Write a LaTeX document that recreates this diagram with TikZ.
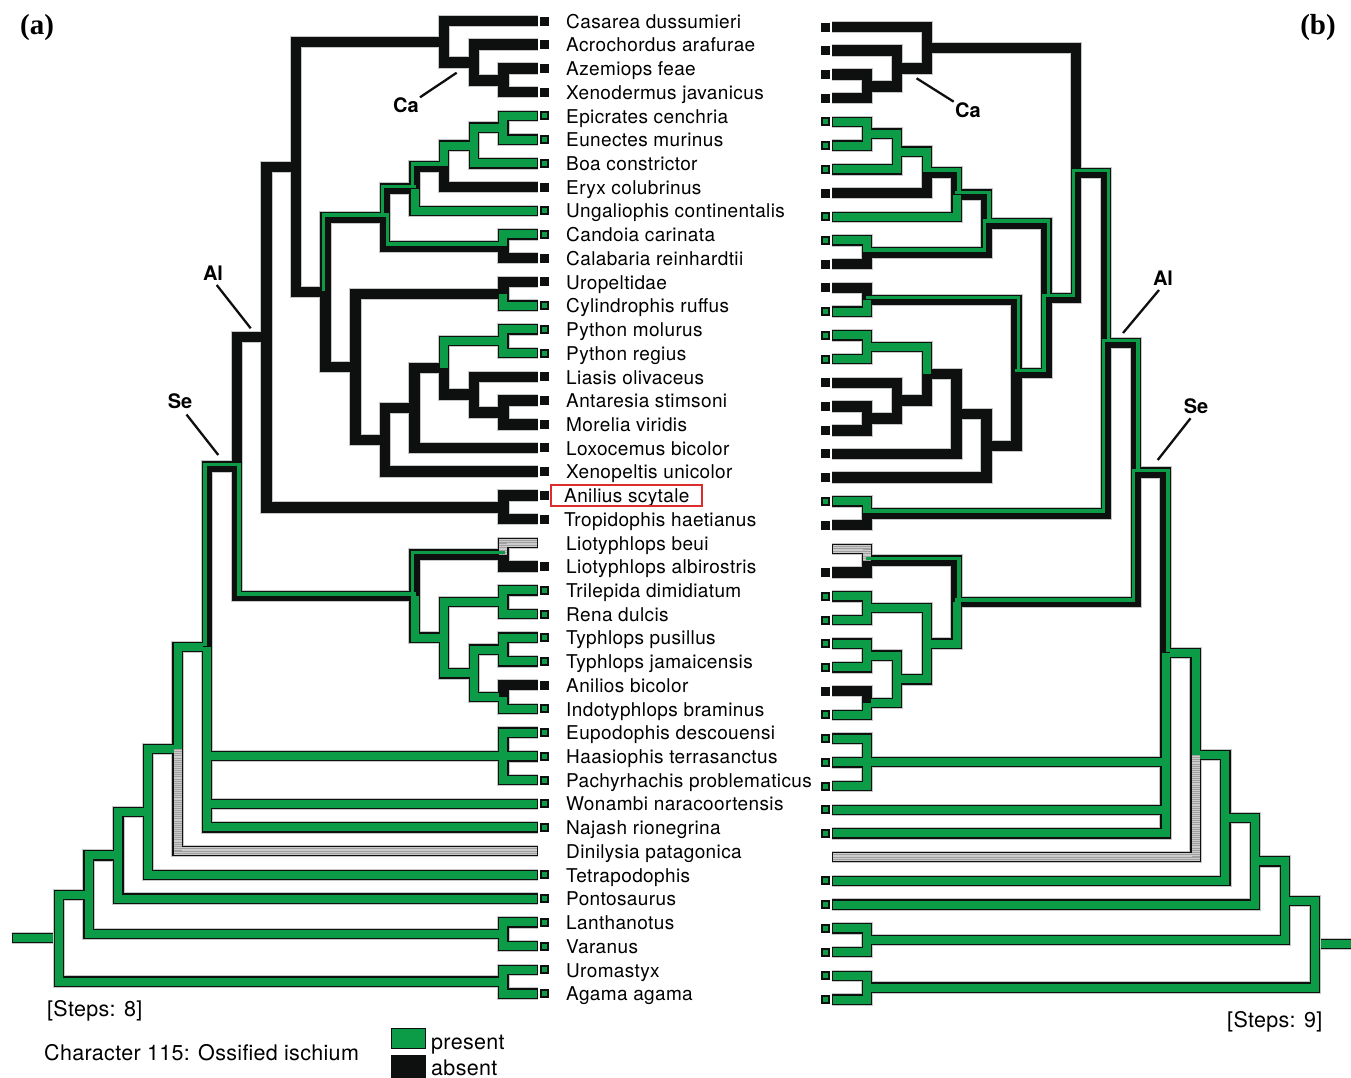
\documentclass[tikz,border=0pt]{standalone}
\usepackage{fontspec}
\setmainfont{TeX Gyre Heros}
\newfontfamily\taxfont[LetterSpace=2]{TeX Gyre Heros}
\newfontfamily\legfont[LetterSpace=1.5]{TeX Gyre Heros}
\newfontfamily\panfont{Liberation Serif}
\usetikzlibrary{calc}
\definecolor{pg}{RGB}{12,156,72}
\definecolor{kk}{RGB}{14,16,16}
\definecolor{rb}{RGB}{222,44,44}

\newcommand\nd[3]{\coordinate (a-#1) at ({533.1-29.63*#2},#3);\coordinate (b-#1) at ({837.3+29.85*#2},{#3+6});}

% #1 prefix, #2 all, #3 green, #4 black, #5 equivocal up, #6 equivocal down, #7 unknown, #8 side sign
\newcommand\drawtree[8]{%
 \foreach \p/\c in #2 {\draw[halo] (#1-\p) |- (#1-\c);}
 \foreach \p/\c in #2 {\draw[outl] (#1-\p) |- (#1-\c);}
 \foreach \p/\c in #3 {\draw[ing] (#1-\p) |- (#1-\c);}
 \foreach \p/\c in #4 {\draw[ink] (#1-\p) |- (#1-\c);}
 \foreach \p/\c in #5 {\draw[ink] (#1-\p) |- (#1-\c);}
 \foreach \p/\c in #6 {\draw[ink] (#1-\p) |- (#1-\c);}
 \foreach \p/\c in #7 {\draw[inu] (#1-\p) |- (#1-\c);
   \draw[line width=8pt,draw=gray!75,dash pattern=on 1pt off 1.1pt] (#1-\p) -- (#1-\c -| #1-\p);
   \foreach \s in {-2.5,0,2.5}{\draw[line width=1pt,draw=gray!75,shorten >=4pt] ($(#1-\c -| #1-\p)+(#8*4,\s)$) -- ($(#1-\c)+(0,\s)$);}}
 \foreach \p/\c in #5 {\draw[strip] ([xshift={(#8)*2.3pt},yshift=2.3pt]#1-\p) |- ([yshift=2.3pt]#1-\c);}
 \foreach \p/\c in #6 {\draw[strip] ([xshift={-(#8)*2.3pt},yshift=2.3pt]#1-\p) |- ([yshift=2.3pt]#1-\c);}
}

\def\Ag{n16/n15,n16/ua,ua/t40,ua/t41,n15/n14,n15/lv,lv/t38,lv/t39,n14/n13,n14/t37,n13/n12,n13/t36,n12/n11,n11/pach,pach/t30,pach/t31,pach/t32,n11/t33,n11/t34,scol/sc3,sc3/tr,tr/t24,tr/t25,sc3/sc2,sc2/ty,ty/t26,ty/t27,sc2/ai,ai/t29,ung/t8,eryx/boa,boa/epeu,boa/t6,epeu/t4,epeu/t5,cc/t9,uc/t12,pyt/py,py/t13,py/t14}
\def\Ak{n8/ca,ca/t0,ca/acro,acro/t1,acro/azxe,azxe/t2,azxe/t3,eryx/t7,cc/t10,n7/n6,n6/uc,uc/t11,n6/xen,xen/lox,xen/t19,lox/pyt,lox/t18,pyt/li,li/t15,li/am,am/t16,am/t17,n8/n7,n9/n8,n9/at,at/t20,at/t21,n10/n9,lio/t23,ai/t28}
\def\Aeu{n7/boid,boid/ung,ung/eryx,n11/n10,scol/lio}
\def\Aed{boid/cc,n10/scol}
\def\Au{lio/t22,n12/t35}
\edef\Aall{\Ag,\Ak,\Aeu,\Aed,\Au}

\def\Bg{n16/n15,n16/ua,ua/t40,ua/t41,n15/n14,n15/lv,lv/t38,lv/t39,n14/n13,n14/t37,n13/n12,n13/t36,n12/n11,n11/pach,pach/t30,pach/t31,pach/t32,n11/t33,n11/t34,scol/sc3,sc3/tr,tr/t24,tr/t25,sc3/sc2,sc2/ty,ty/t26,ty/t27,sc2/ai,ai/t29,ung/t8,eryx/boa,boa/epeu,boa/t6,epeu/t4,epeu/t5,cc/t9,uc/t12,pyt/py,py/t13,py/t14,at/t20}
\def\Bk{n8/ca,ca/t0,ca/acro,acro/t1,acro/azxe,azxe/t2,azxe/t3,eryx/t7,cc/t10,uc/t11,n6/xen,xen/lox,xen/t19,lox/pyt,lox/t18,pyt/li,li/t15,li/am,am/t16,am/t17,at/t21,lio/t23,ai/t28}
\def\Beu{n7/boid,boid/ung,ung/eryx,n11/n10,scol/lio,n9/n8,n10/n9,n6/uc}
\def\Bed{boid/cc,n10/scol,n7/n6,n8/n7,n9/at}
\def\Bu{lio/t22,n12/t35}
\edef\Ball{\Bg,\Bk,\Beu,\Bed,\Bu}

\tikzset{
 halo/.style={line width=12.5pt,draw=gray!45,line join=miter,shorten >=2.8pt},
 outl/.style={line width=10.5pt,draw=kk,line join=miter,shorten >=2.8pt},
 ing/.style={line width=8pt,draw=pg,line join=miter,shorten >=4pt},
 ink/.style={line width=8pt,draw=kk,line join=miter,shorten >=4pt},
 inu/.style={line width=8pt,draw=gray!40,line join=miter,shorten >=4pt},
 strip/.style={line width=3.3pt,draw=pg,line join=miter,line cap=rect},
 sqg/.style={draw=kk,line width=2pt,fill=pg,minimum size=7pt,inner sep=0,outer sep=0},
 sqk/.style={draw=kk,line width=2pt,fill=kk,minimum size=7pt,inner sep=0,outer sep=0},
 taxon/.style={anchor=base west,inner sep=0,font=\taxfont\fontsize{19}{19}\selectfont},
 clade/.style={inner sep=0,font=\bfseries\fontsize{20}{20}\selectfont},
 pointer/.style={line width=2.3pt,draw=kk},
 leg/.style={anchor=base west,inner sep=0,font=\legfont\fontsize{21.5}{21.5}\selectfont},
 panel/.style={inner sep=0,font=\panfont\bfseries\fontsize{29}{29}\selectfont}
}

\begin{document}
\begin{tikzpicture}[x=1pt,y=-1pt]
\useasboundingbox (0,0) rectangle (1351,1077);
\fill[white] (0,0) rectangle (1351,1077);

% tip ends
\foreach \i in {0,...,41}{
 \coordinate (a-t\i) at (541,{21+23.72*\i});
 \coordinate (b-t\i) at (829.3,{27+23.72*\i});
}
% internal nodes (depth, y)
\nd{azxe}{1}{80.30}
\nd{acro}{2}{62.51}
\nd{ca}{3}{41.755}
\nd{epeu}{1}{127.74}
\nd{boa}{2}{145.53}
\nd{eryx}{3}{166.285}
\nd{ung}{4}{188.52}
\nd{cc}{1}{246.34}
\nd{boid}{5}{217.43}
\nd{uc}{1}{293.78}
\nd{py}{1}{341.22}
\nd{am}{1}{412.38}
\nd{li}{2}{394.59}
\nd{pyt}{3}{367.905}
\nd{lox}{4}{407.93}
\nd{xen}{5}{439.81}
\nd{n6}{6}{366.80}
\nd{n7}{7}{292.11}
\nd{n8}{8}{166.93}
\nd{at}{1}{507.26}
\nd{n9}{9}{337.10}
\nd{lio}{1}{554.70}
\nd{tr}{1}{602.14}
\nd{ty}{1}{649.58}
\nd{ai}{1}{697.02}
\nd{sc2}{2}{673.30}
\nd{sc3}{3}{637.72}
\nd{scol}{4}{596.21}
\nd{n10}{10}{466.655}
\nd{pach}{1}{756.0}
\nd{n11}{11}{647.07}
\nd{n12}{12}{749.135}
\nd{n13}{13}{812.03}
\nd{n14}{14}{855.33}
\nd{lv}{1}{934.22}
\nd{n15}{15}{894.78}
\nd{ua}{1}{981.66}
\nd{n16}{16}{938.22}
\coordinate (a-root) at (11.5,938.22);
\coordinate (b-root) at (1353,944.22);

% root stubs
\draw[halo,shorten >=0pt] (a-root) -- (a-n16);
\draw[outl,shorten >=0pt] (a-root) -- (a-n16);
\draw[halo,shorten >=0pt] (b-root) -- (b-n16);
\draw[outl,shorten >=0pt] (b-root) -- (b-n16);
\draw[ing,shorten <=1.25pt] (a-root) -- (a-n16);
\draw[ing] (b-root) -- (b-n16);

\drawtree{a}{\Aall}{\Ag}{\Ak}{\Aeu}{\Aed}{\Au}{-1}
\drawtree{b}{\Ball}{\Bg}{\Bk}{\Beu}{\Bed}{\Bu}{1}

% tip squares
\foreach \i in {4,5,6,8,9,12,13,14,24,25,26,27,29,30,31,32,33,34,36,37,38,39,40,41}{
 \node[sqg] (a-s\i) at (544.5,{21+23.72*\i}) {};
 \node[sqg] (b-s\i) at (825.5,{27+23.72*\i}) {};
}
\foreach \i in {0,1,2,3,7,10,11,15,16,17,18,19,21,23,28}{
 \node[sqk] (a-s\i) at (544.5,{21+23.72*\i}) {};
 \node[sqk] (b-s\i) at (825.5,{27+23.72*\i}) {};
}
\node[sqk] (a-s20) at (544.5,{21+23.72*20}) {};
\node[sqg] (b-s20) at (825.5,{27+23.72*20}) {};

% taxon names
\foreach \i/\nm in {0/Casarea dussumieri,1/Acrochordus arafurae,2/Azemiops feae,3/Xenodermus javanicus,4/Epicrates cenchria,5/Eunectes murinus,6/Boa constrictor,7/Eryx colubrinus,8/Ungaliophis continentalis,9/Candoia carinata,10/Calabaria reinhardtii,11/Uropeltidae,12/Cylindrophis ruffus,13/Python molurus,14/Python regius,15/Liasis olivaceus,16/Antaresia stimsoni,17/Morelia viridis,18/Loxocemus bicolor,19/Xenopeltis unicolor,22/Liotyphlops beui,23/Liotyphlops albirostris,24/Trilepida dimidiatum,25/Rena dulcis,26/Typhlops pusillus,27/Typhlops jamaicensis,28/Anilios bicolor,29/Indotyphlops braminus,30/Eupodophis descouensi,31/Haasiophis terrasanctus,32/Pachyrhachis problematicus,33/Wonambi naracoortensis,34/Najash rionegrina,35/Dinilysia patagonica,36/Tetrapodophis,37/Pontosaurus,38/Lanthanotus,39/Varanus,40/Uromastyx,41/Agama agama}{
 \node[taxon] (lab\i) at (566,{28.2+23.72*\i}) {\nm};
}
\node[taxon] (lab20) at (564,{28.2+23.72*20}) {Anilius scytale};
\node[taxon] (lab21) at (564,{28.2+23.72*21}) {Tropidophis haetianus};
\draw[draw=rb,line width=2pt] (550.5,484.5) rectangle (701.5,505.5);

% clade labels
\node[clade] (ca-a) at (406,105) {Ca};
\coordinate (ca-a1) at (420,97.3); \coordinate (ca-a2) at (456.7,72.7);
\draw[pointer] (ca-a1) -- (ca-a2);
\node[clade] (al-a) at (213,273) {Al};
\coordinate (al-a1) at (216.7,285); \coordinate (al-a2) at (250.7,328.3);
\draw[pointer] (al-a1) -- (al-a2);
\node[clade] (se-a) at (180,401) {Se};
\coordinate (se-a1) at (186.5,414.5); \coordinate (se-a2) at (218.3,455);
\draw[pointer] (se-a1) -- (se-a2);

\node[clade] (ca-b) at (968,110) {Ca};
\coordinate (ca-b1) at (953.7,101.7); \coordinate (ca-b2) at (916.6,78.3);
\draw[pointer] (ca-b1) -- (ca-b2);
\node[clade] (al-b) at (1163,278) {Al};
\coordinate (al-b1) at (1159,290); \coordinate (al-b2) at (1123,333);
\draw[pointer] (al-b1) -- (al-b2);
\node[clade] (se-b) at (1196,406) {Se};
\coordinate (se-b1) at (1190.5,418.3); \coordinate (se-b2) at (1157.7,460);
\draw[pointer] (se-b1) -- (se-b2);

% panel letters
\node[panel] (pa) at (37,28) {(a)};
\node[panel] (pb) at (1318,28) {(b)};

% steps and legend
\node[leg] (st-a) at (47,1016) {[Steps: 8]};
\node[leg] (st-b) at (1227,1027) {[Steps: 9]};
\node[leg] (char) at (44,1060) {Character 115: Ossified ischium};
\node[draw=kk,line width=1.3pt,fill=pg,minimum width=34pt,minimum height=20pt,inner sep=0] (lg-p) at (408.5,1038.5) {};
\node[draw=kk,line width=1.3pt,fill=kk,minimum width=34pt,minimum height=22pt,inner sep=0] (lg-a) at (408.5,1067) {};
\node[leg] (lt-p) at (431,1049.5) {present};
\node[leg] (lt-a) at (431,1075) {absent};
\end{tikzpicture}
\end{document}
